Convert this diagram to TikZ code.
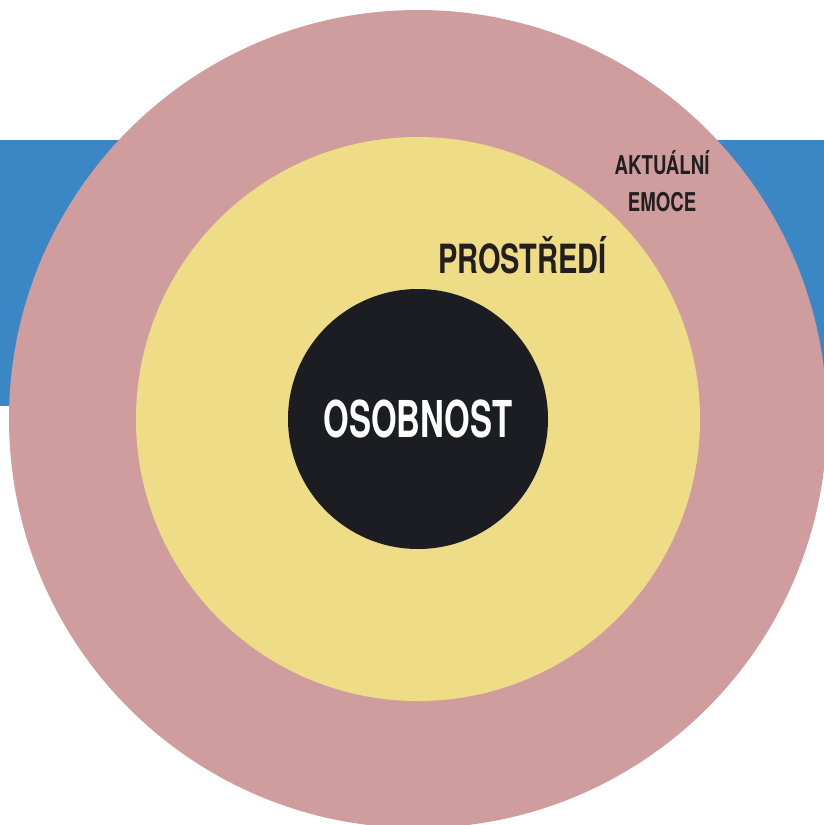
\documentclass[tikz,border=0pt]{standalone}
\usepackage{fontspec}
\usepackage{xcolor}
\newfontfamily\heroscn[FakeStretch=0.72]{TeX Gyre Heros}
\definecolor{emoceblue}{RGB}{59, 134, 197}
\definecolor{emocepink}{RGB}{207, 157, 157}
\definecolor{prostredi}{RGB}{238, 220, 135}
\definecolor{osobnost}{RGB}{28, 29, 34}
\definecolor{labeldark}{RGB}{35, 31, 32}
\usepackage{tikz}
\usetikzlibrary{positioning}
\tikzset{
    ring/.style={circle,inner sep=0pt,minimum size=#1},
    ringlabel/.style={text=labeldark,inner sep=0pt,anchor=base,align=center}
}

\begin{document}
\begin{tikzpicture}[x=1bp,y=-1bp]
    \useasboundingbox (0,0) rectangle (824,825);
    \clip (0,0) rectangle (824,825);
    % background band
    \fill[emoceblue] (0,140) rectangle (824,406);
    % rings
    \node[ring=818bp,fill=emocepink] (emoce) at (418,419) {};
    \node[ring=564bp,fill=prostredi] (env) at (emoce.center) {};
    \node[ring=260bp,fill=osobnost] (core) at (emoce.center) {};
    % labels
    \node[ringlabel,text=white,font=\heroscn\bfseries\fontsize{51}{51}\selectfont]
        (coretext) at (418,437.3) {\scalebox{0.9}[1]{OSOBNOST}};
    \node[ringlabel,font=\heroscn\bfseries\fontsize{40.4}{40.4}\selectfont]
        (envtext) at (522.5,273.3) {PROSTŘEDÍ};
    \node[ringlabel,font=\heroscn\bfseries\fontsize{26}{37}\selectfont]
        (emocetext) at (662,211.5) {AKTUÁLNÍ\\EMOCE};
\end{tikzpicture}
\end{document}
